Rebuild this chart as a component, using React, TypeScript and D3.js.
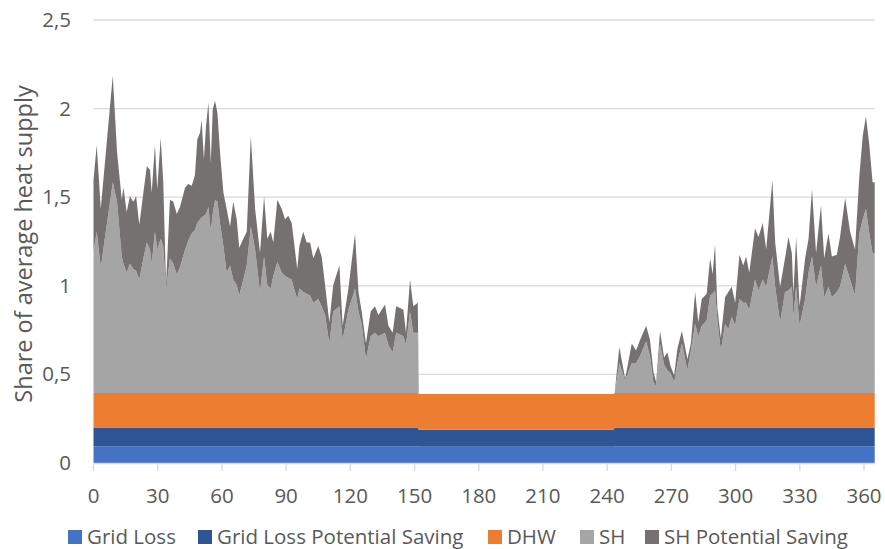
import React from "react";
import * as d3 from "d3";

// day of year (sampled where the curve turns)
const days = [
  0, 1.5, 3.4, 9, 11, 13.2, 14, 15.5, 17, 18.6, 19.9, 21.4, 23.3, 24.9, 26.4, 27.2, 28.7, 29.8, 31.4, 32.6,
  33.9, 35.7, 37.3, 38.9, 40.4, 42.8, 44.3, 45.9, 47.4, 48.5, 49.8, 50.5, 51.6, 52.6, 53.7, 54.8, 55.7, 56.8,
  57.9, 59.1, 60.7, 62.2, 63.8, 65.3, 66.9, 68.1, 70, 71.6, 73.5, 75.5, 77.8, 79.7, 81.2, 82.8, 84, 85.9,
  87.9, 89.5, 91, 92.6, 93.7, 95.2, 96.2, 98, 99.6, 101.2, 102.7, 105, 106.6, 108.2, 110.2, 112, 114.9,
  116.4, 119.1, 122.2, 123.8, 125.3, 127.3, 129.5, 131.5, 133.1, 134.7, 136.2, 137.8, 139.8, 141.4, 143.2,
  144.8, 146, 147.9, 149.4, 151.5, 152, 243, 243.5, 245.7, 248.4, 251.5, 253.5, 255.4, 258.2, 260, 261.6, 262.9,
  264.7, 266.6, 268.1, 269.7, 271.3, 272.8, 274.9, 277.5, 279.1, 281.1, 282.6, 284.2, 286.5, 288.1, 289.3,
  290.4, 291.5, 293.1, 295.1, 296.6, 298.2, 299.8, 301.8, 303.6, 304.9, 306.4, 309.1, 310.7, 312.7, 314.3,
  317.2, 318.5, 320.8, 323.1, 324.7, 326.3, 327, 328.3, 329.9, 332.5, 334.1, 335.7, 337.6, 339.9, 341.4,
  343.4, 345, 347.3, 348.8, 351.2, 353.5, 355.8, 357.8, 359.4, 360.9, 362.5, 364, 365,
];

const sh = [
  0.8, 0.91, 0.71, 1.19, 1.08, 0.77, 0.73, 0.68, 0.73, 0.7, 0.69, 0.64, 0.76, 0.85, 0.81, 0.73, 0.91, 0.81, 0.87, 0.83,
  0.58, 0.76, 0.73, 0.67, 0.71, 0.81, 0.86, 0.9, 0.92, 0.96, 0.98, 0.99, 1.0, 1.01, 1.05, 0.91, 1.01, 1.09,
  1.08, 0.96, 0.83, 0.68, 0.72, 0.64, 0.61, 0.55, 0.64, 0.72, 0.94, 0.81, 0.57, 0.77, 0.61, 0.59, 0.66, 0.74,
  0.68, 0.66, 0.65, 0.64, 0.59, 0.53, 0.59, 0.57, 0.56, 0.55, 0.51, 0.53, 0.49, 0.44, 0.28, 0.46, 0.49,
  0.3, 0.47, 0.59, 0.46, 0.39, 0.19, 0.32, 0.34, 0.32, 0.33, 0.34, 0.27, 0.23, 0.34, 0.33,
  0.32, 0.27, 0.46, 0.34, 0.34, 0, 0, 0, 0.17, 0.07, 0.17, 0.17, 0.21, 0.29, 0.21, 0.06, 0.04,
  0.28, 0.16, 0.13, 0.11, 0.06, 0.17, 0.28, 0.13, 0.24, 0.39, 0.32, 0.38, 0.41, 0.55, 0.56,
  0.58, 0.41, 0.24, 0.39, 0.36, 0.43, 0.38, 0.53, 0.51, 0.51, 0.47, 0.64, 0.58, 0.64, 0.6,
  0.77, 0.6, 0.4, 0.57, 0.58, 0.6, 0.43, 0.6, 0.38, 0.53, 0.68, 0.77, 0.6, 0.72, 0.54,
  0.6, 0.54, 0.57, 0.6, 0.73, 0.64, 0.55, 0.9, 0.98, 1.04, 0.9, 0.79, 0.79,
];

const shSaving = [
  0.4, 0.49, 0.33, 0.6, 0.28, 0.32, 0.43, 0.34, 0.38, 0.38, 0.42, 0.31, 0.37, 0.43, 0.45, 0.4, 0.49, 0.34, 0.57, 0.36,
  0.03, 0.33, 0.35, 0.34, 0.34, 0.35, 0.32, 0.27, 0.31, 0.47, 0.49, 0.55, 0.32, 0.5, 0.59, 0.39, 0.59, 0.56,
  0.5, 0.4, 0.3, 0.36, 0.22, 0.44, 0.37, 0.27, 0.23, 0.19, 0.51, 0.23, 0.22, 0.34, 0.26, 0.32, 0.19, 0.35,
  0.36, 0.32, 0.35, 0.32, 0.26, 0.17, 0.24, 0.34, 0.29, 0.3, 0.25, 0.3, 0.28, 0.17, 0.12, 0.15, 0.23,
  0.08, 0.12, 0.31, 0.11, 0.07, 0.09, 0.14, 0.15, 0.12, 0.14, 0.16, 0.11, 0.11, 0.15, 0.15,
  0.15, 0.07, 0.18, 0.15, 0.17, 0, 0, 0, 0.09, 0.01, 0.11, 0.07, 0.09, 0.09, 0.09, 0.06, 0.02,
  0.07, 0.04, 0.1, 0.04, 0.04, 0.08, 0.07, 0.06, 0.04, 0.18, 0.08, 0.15, 0.15, 0.21, 0.11,
  0.26, 0.07, 0.07, 0.15, 0.21, 0.17, 0.13, 0.25, 0.21, 0.26, 0.21, 0.29, 0.3, 0.32, 0.21,
  0.43, 0.25, 0.2, 0.19, 0.3, 0.19, 0.13, 0.28, 0.11, 0.23, 0.19, 0.38, 0.19, 0.34, 0.22,
  0.3, 0.23, 0.21, 0.28, 0.37, 0.27, 0.26, 0.32, 0.47, 0.52, 0.5, 0.4, 0.4,
];

// base layers are nearly flat: heating season / summer / heating season
const seasonStart = [0, 152, 243.2];
const gridLoss = [0.095, 0.092, 0.095];
const gridLossSaving = [0.105, 0.095, 0.105];
const dhw = [0.195, 0.203, 0.195];

const keys = ["Grid Loss", "Grid Loss Potential Saving", "DHW", "SH", "SH Potential Saving"];
const colors = ["#4472C4", "#2F5597", "#ED7D31", "#A5A5A5", "#767171"];

const xTicks = [0, 30, 60, 90, 120, 150, 180, 210, 240, 270, 300, 330, 360];
const yTicks = [0, 0.5, 1, 1.5, 2, 2.5];
const yTickLabels = ["0", "0,5", "1", "1,5", "2", "2,5"];
const legendX = [68, 198, 488, 580, 645];

const W = 885, H = 549;
const left = 93.5, right = 874.7, top = 20, bottom = 463;
const font = "'Open Sans', sans-serif";
const textColor = "#595959";

export default function App() {
  const x = d3.scaleLinear().domain([0, 365]).range([left, right]);
  const y = d3.scaleLinear().domain([0, 2.5]).range([bottom, top]);

  const rows = days.map((d, i) => {
    const s = d3.bisectRight(seasonStart, d) - 1;
    return {
      day: d,
      "Grid Loss": gridLoss[s],
      "Grid Loss Potential Saving": gridLossSaving[s],
      DHW: dhw[s],
      SH: sh[i],
      "SH Potential Saving": shSaving[i],
    };
  });

  const series = d3.stack<any>().keys(keys)(rows);
  const area = d3
    .area<any>()
    .x((d) => x(d.data.day))
    .y0((d) => y(d[0]))
    .y1((d) => y(d[1]))
    .curve(d3.curveLinear);

  return (
    <svg width={W} height={H} style={{ position: "absolute", left: 0, top: 0 }} fontFamily={font}>
      <rect width={W} height={H} fill="#fff" />
      {yTicks.slice(1).map((t) => (
        <line key={t} x1={left} x2={right} y1={y(t)} y2={y(t)} stroke="#D9D9D9" strokeWidth={1.3} />
      ))}
      {series.map((s, i) => (
        <path key={s.key} d={area(s) || ""} fill={colors[i]} />
      ))}
      <line x1={left} x2={right} y1={bottom + 0.5} y2={bottom + 0.5} stroke="#D9D9D9" strokeWidth={1.3} />
      {xTicks.map((t) => (
        <g key={t}>
          <line x1={x(t)} x2={x(t)} y1={bottom + 1} y2={bottom + 8} stroke="#D9D9D9" strokeWidth={1.3} />
          <text x={x(t)} y={503} textAnchor="middle" fontSize={20.5} fill={textColor}>
            {t}
          </text>
        </g>
      ))}
      {yTicks.map((t, i) => (
        <text key={t} x={71} y={y(t) + 7} textAnchor="end" fontSize={20.5} fill={textColor}>
          {yTickLabels[i]}
        </text>
      ))}
      <text
        transform={`translate(32, 244) rotate(-90)`}
        textAnchor="middle"
        fontSize={23.5}
        fill={textColor}
      >
        Share of average heat supply
      </text>
      {keys.map((k, i) => (
        <g key={k}>
          <rect x={legendX[i]} y={530} width={14} height={14} fill={colors[i]} />
          <text x={legendX[i] + 19} y={543.5} fontSize={20.5} fill={textColor}>
            {k}
          </text>
        </g>
      ))}
    </svg>
  );
}
